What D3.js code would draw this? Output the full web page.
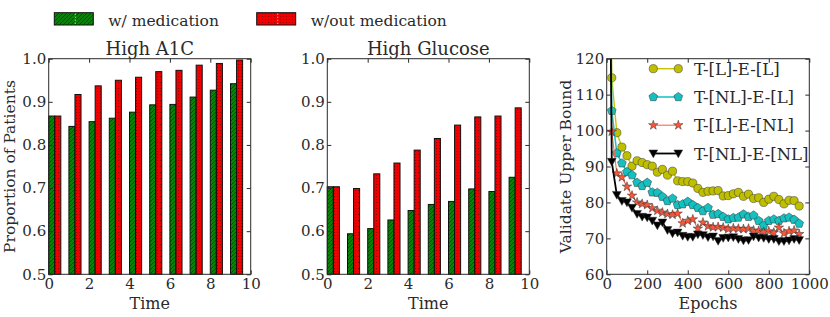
<!DOCTYPE html>
<html>
<head>
<meta charset="utf-8">
<script src="https://cdn.jsdelivr.net/npm/d3@7"></script>
<style>
body { margin: 0; background: #fff; }
svg text { font-family: "DejaVu Serif", serif; }
</style>
</head>
<body>
<svg id="chart" width="830" height="317"></svg>
<script>
// bar panels
const timeSteps = [0, 1, 2, 3, 4, 5, 6, 7, 8, 9];
const a1cWithMed = [0.867, 0.843, 0.854, 0.862, 0.876, 0.893, 0.894, 0.911, 0.927, 0.942];
const a1cWithoutMed = [0.867, 0.917, 0.937, 0.950, 0.957, 0.970, 0.973, 0.985, 0.989, 0.997];
const glucoseWithMed = [0.703, 0.594, 0.606, 0.626, 0.648, 0.662, 0.669, 0.698, 0.692, 0.725];
const glucoseWithoutMed = [0.703, 0.699, 0.733, 0.758, 0.788, 0.815, 0.846, 0.865, 0.867, 0.886];
const timeTicks = [0, 2, 4, 6, 8, 10];
const proportionTicks = [0.5, 0.6, 0.7, 0.8, 0.9, 1.0];
const barLegend = ["w/ medication", "w/out medication"];

// line panel
const epochs = [0, 25, 50, 75, 100, 125, 150, 175, 200, 225, 250, 275, 300, 325, 350, 375, 400, 425, 450, 475,
    500, 525, 550, 575, 600, 625, 650, 675, 700, 725, 750, 775, 800, 825, 850, 875, 900, 925, 950];
const boundLinLin = [260, 114.7, 99.4, 95.4, 93.0, 90.1, 91.6, 91.1, 90.5, 90.1, 88.4, 89.2, 87.6, 88.7, 86.0, 85.8, 85.8, 85.4, 83.9, 82.8,
    83.1, 83.2, 83.3, 81.8, 81.9, 82.4, 82.8, 81.7, 82.3, 81.1, 81.3, 80.0, 80.9, 81.7, 80.8, 79.6, 80.6, 80.5, 79.0];
const boundNonlinLin = [240, 105.5, 93.7, 90.9, 88.5, 87.6, 85.5, 84.6, 85.5, 82.8, 82.7, 81.6, 80.4, 81.1, 79.3, 79.5, 80.2, 79.3, 78.5, 77.6,
    78.5, 76.6, 76.8, 76.0, 75.3, 75.7, 75.8, 76.7, 76.0, 76.4, 74.9, 73.6, 74.9, 75.3, 74.9, 75.6, 75.8, 75.2, 74.1];
const boundLinNonlin = [230, 99.7, 88.1, 87.0, 84.4, 81.9, 80.0, 79.6, 79.3, 78.4, 77.7, 77.2, 76.8, 76.6, 76.9, 74.2, 74.9, 75.3, 72.7, 74.4,
    73.4, 73.1, 73.2, 73.0, 72.6, 72.8, 72.7, 72.6, 72.7, 72.2, 72.1, 71.8, 72.0, 71.6, 73.0, 71.4, 72.0, 72.2, 71.2];
const boundNonlinNonlin = [250, 91.3, 82.1, 80.4, 80.0, 78.5, 76.8, 76.0, 75.8, 74.9, 73.6, 74.4, 72.3, 71.4, 71.6, 70.7, 70.4, 70.4, 71.1, 70.9,
    70.3, 70.5, 69.3, 70.1, 70.2, 70.3, 69.8, 69.4, 69.5, 70.5, 70.2, 70.1, 69.8, 69.8, 69.2, 69.2, 69.4, 69.8, 69.5];
const epochTicks = [0, 200, 400, 600, 800, 1000];
const boundTicks = [60, 70, 80, 90, 100, 110, 120];
const seriesNames = ["T-[L]-E-[L]", "T-[NL]-E-[L]", "T-[L]-E-[NL]", "T-[NL]-E-[NL]"];

const svg = d3.select("#chart");
const plotTop = 58.7, plotBottom = 274.3;
const inkColor = "#2a2a2a";
const serif = "DejaVu Serif, serif";

// fill patterns, hatched green and dotted red
const defs = svg.append("defs");
const gp = defs.append("pattern").attr("id", "greenHatch")
    .attr("patternUnits", "userSpaceOnUse").attr("width", 4).attr("height", 4);
gp.append("rect").attr("width", 4).attr("height", 4).attr("fill", "#0b800b");
gp.append("path").attr("d", "M-1,1 l2,-2 M0,4 l4,-4 M3,5 l2,-2")
    .attr("stroke", "#044a04").attr("stroke-width", 0.9);
const rp = defs.append("pattern").attr("id", "redDots")
    .attr("patternUnits", "userSpaceOnUse").attr("width", 3).attr("height", 3);
rp.append("rect").attr("width", 3).attr("height", 3).attr("fill", "#f00000");
rp.append("circle").attr("cx", 1.5).attr("cy", 1.5).attr("r", 0.6).attr("fill", "#8a0000");

function frameAxes(g, x, y, xTicks, yTicks, yFmt) {
    const x0 = x.range()[0], x1 = x.range()[1];
    g.append("g").attr("transform", `translate(0,${plotBottom})`)
        .call(d3.axisBottom(x).tickValues(xTicks).tickSize(-4).tickSizeOuter(0).tickPadding(4).tickFormat(d3.format("d")));
    g.append("g").attr("transform", `translate(0,${plotTop})`)
        .call(d3.axisTop(x).tickValues(xTicks).tickSize(-4).tickSizeOuter(0).tickFormat(""));
    g.append("g").attr("transform", `translate(${x0},0)`)
        .call(d3.axisLeft(y).tickValues(yTicks).tickSize(-4).tickSizeOuter(0).tickPadding(2.5).tickFormat(yFmt));
    g.append("g").attr("transform", `translate(${x1},0)`)
        .call(d3.axisRight(y).tickValues(yTicks).tickSize(-4).tickSizeOuter(0).tickFormat(""));
    g.selectAll(".domain").remove();
    g.selectAll("g").attr("font-family", serif);
    g.selectAll(".tick line").attr("stroke", inkColor);
    g.selectAll(".tick text").attr("font-size", 15).attr("fill", inkColor);
    g.append("rect").attr("x", x0).attr("y", plotTop)
        .attr("width", x1 - x0).attr("height", plotBottom - plotTop)
        .attr("fill", "none").attr("stroke", inkColor).attr("stroke-width", 1);
}

function barPanel(x0, x1, title, withMed, withoutMed, showYLabel) {
    const g = svg.append("g").attr("font-family", serif);
    const x = d3.scaleLinear().domain([0, 10]).range([x0, x1]);
    const y = d3.scaleLinear().domain([0.5, 1.0]).range([plotBottom, plotTop]);
    const bw = 0.3;
    const groups = [
        { values: withMed, offset: 0, fill: "url(#greenHatch)" },
        { values: withoutMed, offset: bw, fill: "url(#redDots)" }
    ];
    groups.forEach(s => {
        g.selectAll(null).data(timeSteps).join("rect")
            .attr("x", t => x(t + s.offset))
            .attr("width", x(bw) - x(0))
            .attr("y", (t, i) => y(s.values[i]))
            .attr("height", (t, i) => plotBottom - y(s.values[i]))
            .attr("fill", s.fill)
            .attr("stroke", "#111").attr("stroke-width", 1);
    });
    frameAxes(g, x, y, timeTicks, proportionTicks, d3.format(".1f"));
    g.append("text").attr("x", (x0 + x1) / 2).attr("y", 55)
        .attr("text-anchor", "middle").attr("font-size", 18).attr("fill", inkColor).text(title);
    g.append("text").attr("x", (x0 + x1) / 2).attr("y", 309)
        .attr("text-anchor", "middle").attr("font-size", 16).attr("fill", inkColor).text("Time");
    if (showYLabel) {
        g.append("text").attr("transform", `translate(15,${(plotTop + plotBottom) / 2}) rotate(-90)`)
            .attr("text-anchor", "middle").attr("font-size", 15.5).attr("fill", inkColor)
            .text("Proportion of Patients");
    }
}

barPanel(48.7, 250.7, "High A1C", a1cWithMed, a1cWithoutMed, true);
barPanel(327.3, 529.3, "High Glucose", glucoseWithMed, glucoseWithoutMed, false);

// top legend
const legendPatches = [
    { x: 54.3, fill: "url(#greenHatch)", label: barLegend[0] },
    { x: 256.7, fill: "url(#redDots)", label: barLegend[1] }
];
legendPatches.forEach(p => {
    svg.append("rect").attr("x", p.x).attr("y", 12.7).attr("width", 39).attr("height", 12.3)
        .attr("fill", p.fill).attr("stroke", "#111").attr("stroke-width", 1);
    svg.append("line").attr("x1", p.x + 21).attr("x2", p.x + 21).attr("y1", 13.5).attr("y2", 24.5)
        .attr("stroke", "#fff").attr("stroke-width", 0.8).attr("stroke-dasharray", "1.5,1.5").attr("opacity", 0.8);
    svg.append("text").attr("x", p.x + 54).attr("y", 25.5).attr("font-size", 15.5)
        .attr("font-family", serif).attr("fill", inkColor).text(p.label);
});

// line panel
const lx0 = 606.7, lx1 = 809.3;
const xE = d3.scaleLinear().domain([0, 1000]).range([lx0, lx1]);
const yB = d3.scaleLinear().domain([60, 120]).range([plotBottom, plotTop]);
const lg = svg.append("g").attr("font-family", serif);
defs.append("clipPath").attr("id", "plotClip").append("rect")
    .attr("x", lx0).attr("y", plotTop).attr("width", lx1 - lx0).attr("height", plotBottom - plotTop);

function pentagon(r) {
    const pts = d3.range(5).map(k => {
        const a = -Math.PI / 2 + k * 2 * Math.PI / 5;
        return [r * Math.cos(a), r * Math.sin(a)];
    });
    return "M" + pts.map(p => p.join(",")).join("L") + "Z";
}
const markerShapes = {
    circle: () => d3.symbol(d3.symbolCircle, Math.PI * 4.1 * 4.1)(),
    pentagon: () => pentagon(4.6),
    star: () => d3.symbol(d3.symbolStar, 28)(),
    triDown: () => "M-4.4,-3.5L4.4,-3.5L0,4.3Z"
};

const lineSeries = [
    { name: seriesNames[0], values: boundLinLin, color: "#bfbf00", line: "#c4c400", width: 1.4, marker: "circle" },
    { name: seriesNames[1], values: boundNonlinLin, color: "#14c0c0", line: "#1fc4c4", width: 1.6, marker: "pentagon" },
    { name: seriesNames[2], values: boundLinNonlin, color: "#f8573a", line: "#f86a50", width: 1.1, marker: "star" },
    { name: seriesNames[3], values: boundNonlinNonlin, color: "#000", line: "#000", width: 1.8, marker: "triDown" }
];

const plotArea = lg.append("g").attr("clip-path", "url(#plotClip)");
const lineGen = d3.line().x((d, i) => xE(epochs[i])).y(d => yB(d));
lineSeries.forEach(s => {
    plotArea.append("path").datum(s.values).attr("d", lineGen)
        .attr("fill", "none").attr("stroke", s.line).attr("stroke-width", s.width)
        .attr("stroke-linejoin", "round");
    plotArea.selectAll(null).data(s.values).join("path")
        .attr("transform", (d, i) => `translate(${xE(epochs[i])},${yB(d)})`)
        .attr("d", markerShapes[s.marker]())
        .attr("fill", s.color).attr("stroke", "#333").attr("stroke-width", 0.5);
});

frameAxes(lg, xE, yB, epochTicks, boundTicks, d3.format("d"));
lg.append("text").attr("x", (lx0 + lx1) / 2).attr("y", 309)
    .attr("text-anchor", "middle").attr("font-size", 16).attr("fill", inkColor).text("Epochs");
lg.append("text").attr("transform", `translate(571,${(plotTop + plotBottom) / 2}) rotate(-90)`)
    .attr("text-anchor", "middle").attr("font-size", 15.5).attr("fill", inkColor).text("Validate Upper Bound");

// line panel legend
const legendRows = [68.7, 97, 125.2, 153.5];
lineSeries.forEach((s, i) => {
    const yy = legendRows[i];
    lg.append("line").attr("x1", 653.3).attr("x2", 678.3).attr("y1", yy).attr("y2", yy)
        .attr("stroke", s.line).attr("stroke-width", s.width);
    [653.3, 678.3].forEach(mx => {
        lg.append("path").attr("transform", `translate(${mx},${yy})`)
            .attr("d", markerShapes[s.marker]())
            .attr("fill", s.color).attr("stroke", "#333").attr("stroke-width", 0.5);
    });
    lg.append("text").attr("x", 694).attr("y", yy + 6).attr("font-size", 16.5)
        .attr("fill", inkColor).text(s.name);
});
</script>
</body>
</html>
